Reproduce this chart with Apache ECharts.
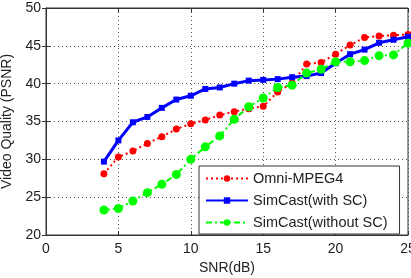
<!doctype html>
<html>
<head>
<meta charset="UTF-8">
<title>SNR vs PSNR</title>
<script src="https://cdn.jsdelivr.net/npm/echarts@6/dist/echarts.min.js"></script>
<style>
  html, body { margin: 0; padding: 0; background: #fff; }
  #main { width: 411px; height: 278px; }
</style>
</head>
<body>
<div id="main"></div>
<script>
var snr = [4, 5, 6, 7, 8, 9, 10, 11, 12, 13, 14, 15, 16, 17, 18, 19, 20, 21, 22, 23, 24, 25];
var omniMpeg4 = [28.1, 30.3, 31.1, 32.1, 33.0, 34.0, 34.7, 35.2, 35.85, 36.3, 36.7, 37.0, 38.9, 40.1, 42.6, 42.8, 43.9, 45.1, 46.1, 46.3, 46.4, 46.5];
var simcastSC = [29.7, 32.5, 34.9, 35.6, 36.8, 37.9, 38.4, 39.3, 39.5, 40.0, 40.4, 40.5, 40.6, 40.85, 41.0, 41.4, 42.7, 43.9, 44.5, 45.4, 45.8, 46.2];
var simcastNoSC = [23.3, 23.5, 24.5, 25.6, 26.7, 28.0, 30.0, 31.65, 33.1, 35.3, 36.95, 38.1, 39.5, 39.8, 41.4, 41.9, 42.9, 42.9, 43.05, 43.7, 43.8, 45.35];
var names = ['Omni-MPEG4', 'SimCast(with SC)', 'SimCast(without SC)'];

function pairs(ys) {
    var res = [];
    for (var i = 0; i < snr.length; i++) {
        res.push([snr[i], ys[i]]);
    }
    return res;
}

var font = 'Liberation Sans, Arial, sans-serif';
var myChart = echarts.init(document.getElementById('main'), null, { renderer: 'canvas' });

var gridLine = { show: true, lineStyle: { color: '#555', type: [1, 3], width: 1 } };
var tick = { show: true, inside: true, length: 4, lineStyle: { color: '#333' } };

var option = {
    animation: false,
    backgroundColor: '#fff',
    grid: { left: 46, right: 3, top: 8, bottom: 43, show: true, borderColor: '#333', borderWidth: 1, outerBoundsMode: 'none', containLabel: false },
    xAxis: [{
        type: 'value', min: 0, max: 25, interval: 5,
        name: 'SNR(dB)', nameLocation: 'middle', nameGap: 25,
        nameTextStyle: { fontFamily: font, fontSize: 14, color: '#222' },
        axisLine: { show: true, lineStyle: { color: '#333' } },
        axisTick: tick,
        axisLabel: { fontFamily: font, fontSize: 14, color: '#222', margin: 7 },
        splitLine: gridLine
    }, {
        type: 'value', min: 0, max: 25, interval: 5, position: 'top',
        axisLine: { show: true, lineStyle: { color: '#333' } },
        axisTick: tick, axisLabel: { show: false }, splitLine: { show: false }
    }],
    yAxis: [{
        type: 'value', min: 20, max: 50, interval: 5,
        name: 'Video Quality (PSNR)', nameLocation: 'middle', nameGap: 30,
        nameTextStyle: { fontFamily: font, fontSize: 14, color: '#222' },
        axisLine: { show: true, lineStyle: { color: '#333' } },
        axisTick: tick,
        axisLabel: { fontFamily: font, fontSize: 14, color: '#222', margin: 5 },
        splitLine: gridLine
    }, {
        type: 'value', min: 20, max: 50, interval: 5, position: 'right',
        axisLine: { show: true, lineStyle: { color: '#333' } },
        axisTick: tick, axisLabel: { show: false }, splitLine: { show: false }
    }],
    legend: {
        orient: 'vertical', left: 199, top: 166,
        backgroundColor: '#fff', borderColor: '#333', borderWidth: 1,
        padding: [5, 12, 4, 6], itemGap: 7, itemWidth: 42, itemHeight: 8,
        textStyle: { fontFamily: font, fontSize: 14.5, color: '#222', height: 14, lineHeight: 14 },
        data: names
    },
    series: [{
        name: names[0], type: 'line', data: pairs(omniMpeg4),
        symbol: 'circle', symbolSize: 7,
        lineStyle: { color: '#ff0000', width: 2, type: [2, 3] },
        itemStyle: { color: '#ff0000' }
    }, {
        name: names[1], type: 'line', data: pairs(simcastSC),
        symbol: 'rect', symbolSize: 6,
        lineStyle: { color: '#0000ff', width: 3, type: 'solid' },
        itemStyle: { color: '#0000ff' }, z: 3
    }, {
        name: names[2], type: 'line', data: pairs(simcastNoSC),
        symbol: 'circle', symbolSize: 9,
        lineStyle: { color: '#00ff00', width: 2, type: [6, 3, 2, 3] },
        itemStyle: { color: '#00ff00' }
    }]
};
myChart.setOption(option);
</script>
</body>
</html>
